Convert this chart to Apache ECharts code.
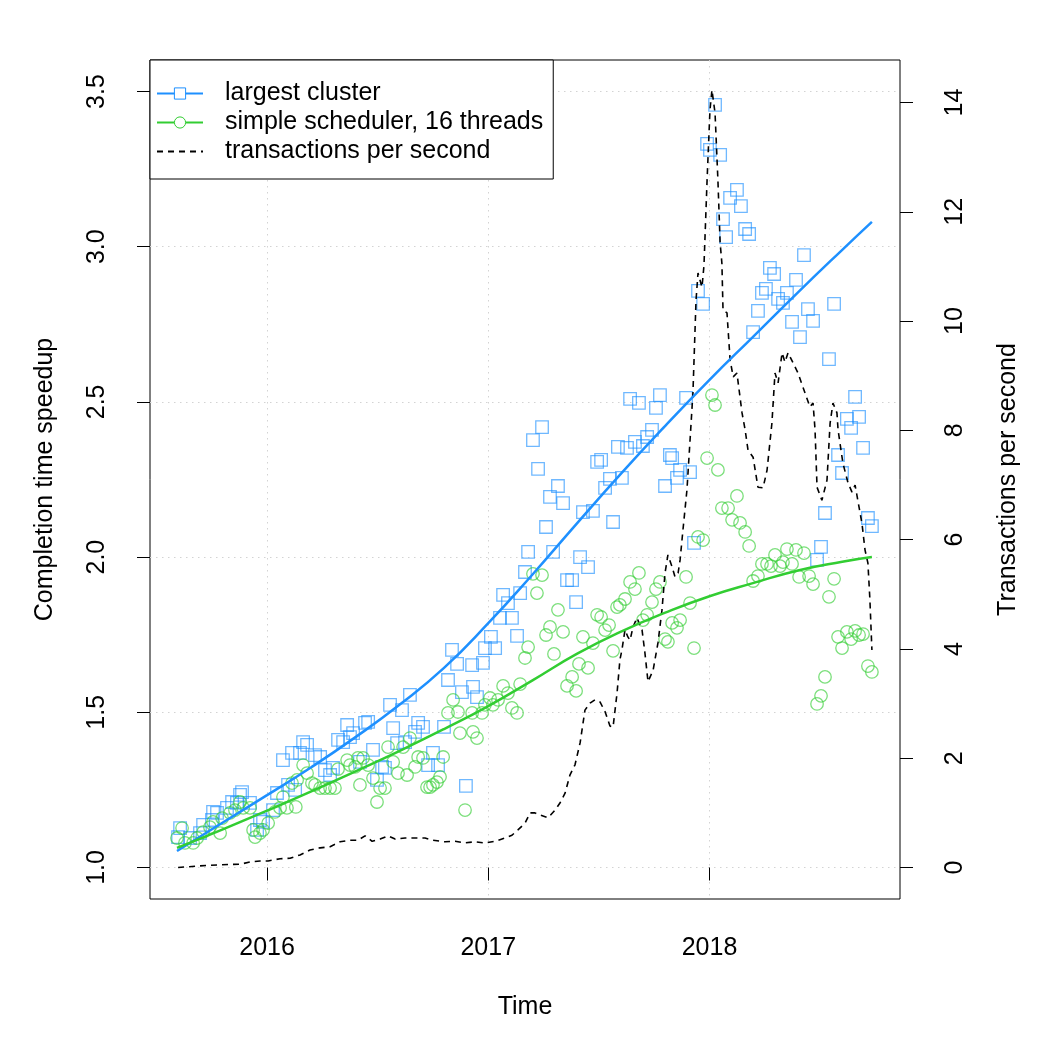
<!DOCTYPE html>
<html>
<head>
<meta charset="utf-8">
<script src="https://cdn.jsdelivr.net/npm/echarts@6/dist/echarts.min.js"></script>
<style>
  html, body { margin: 0; padding: 0; background: #fff; }
  #chart { width: 1050px; height: 1050px; }
</style>
</head>
<body>
<div id="chart"></div>
<script>
// tick labels
const timeTicks = [2016, 2017, 2018];
const speedupTicks = [1.0, 1.5, 2.0, 2.5, 3.0, 3.5];
const tpsTicks = [0, 2, 4, 6, 8, 10, 12, 14];

// [decimal year, speedup]
const clusterPoints = [
  [2015.598,1.098],[2015.607,1.127],[2015.652,1.095],[2015.697,1.111],[2015.711,1.137],[2015.751,1.153],
  [2015.756,1.179],[2015.774,1.176],[2015.819,1.192],[2015.842,1.211],[2015.864,1.208],[2015.878,1.234],
  [2015.887,1.243],[2015.923,1.208],[2015.955,1.121],[2015.968,1.153],[2015.982,1.147],[2016.027,1.185],
  [2016.045,1.240],[2016.072,1.346],[2016.095,1.266],[2016.113,1.369],[2016.127,1.250],[2016.149,1.369],
  [2016.163,1.404],[2016.181,1.395],[2016.217,1.362],[2016.240,1.356],[2016.262,1.314],[2016.285,1.298],
  [2016.298,1.321],[2016.321,1.411],[2016.344,1.404],[2016.362,1.459],[2016.375,1.420],[2016.389,1.433],
  [2016.420,1.340],[2016.443,1.466],[2016.457,1.469],[2016.479,1.379],[2016.497,1.282],[2016.520,1.324],
  [2016.533,1.321],[2016.556,1.524],[2016.570,1.449],[2016.588,1.401],[2016.610,1.507],[2016.624,1.404],
  [2016.646,1.556],[2016.669,1.437],[2016.683,1.466],[2016.705,1.453],[2016.728,1.330],[2016.750,1.369],
  [2016.773,1.330],[2016.800,1.453],[2016.818,1.604],[2016.836,1.701],[2016.859,1.656],[2016.881,1.565],
  [2016.899,1.263],[2016.927,1.652],[2016.931,1.582],[2016.949,1.549],[2016.976,1.659],[2016.985,1.707],
  [2017.012,1.743],[2017.031,1.707],[2017.053,1.804],[2017.067,1.878],[2017.089,1.852],[2017.107,1.804],
  [2017.130,1.746],[2017.144,1.884],[2017.166,1.952],[2017.180,2.017],[2017.202,2.377],[2017.225,2.284],
  [2017.243,2.419],[2017.261,2.097],[2017.279,2.194],[2017.293,2.017],[2017.315,2.229],[2017.338,2.174],
  [2017.356,1.926],[2017.379,1.926],[2017.397,1.855],[2017.415,2.000],[2017.428,2.145],[2017.451,1.968],
  [2017.473,2.149],[2017.492,2.307],[2017.510,2.313],[2017.528,2.223],[2017.550,2.252],[2017.564,2.113],
  [2017.586,2.355],[2017.604,2.255],[2017.627,2.352],[2017.641,2.510],[2017.663,2.371],[2017.681,2.497],
  [2017.699,2.358],[2017.718,2.387],[2017.740,2.410],[2017.758,2.481],[2017.776,2.522],[2017.799,2.229],
  [2017.821,2.329],[2017.831,2.319],[2017.853,2.255],[2017.867,2.281],[2017.894,2.513],[2017.912,2.274],
  [2017.930,2.046],[2017.948,2.858],[2017.971,2.816],[2017.989,3.331],[2018.002,3.312],[2018.025,3.457],
  [2018.048,3.296],[2018.061,3.089],[2018.075,3.031],[2018.093,3.157],[2018.124,3.183],[2018.142,3.131],
  [2018.161,3.057],[2018.179,3.041],[2018.197,2.725],[2018.219,2.793],[2018.237,2.851],[2018.255,2.864],
  [2018.273,2.932],[2018.292,2.912],[2018.310,2.832],[2018.332,2.819],[2018.350,2.851],[2018.373,2.758],
  [2018.391,2.893],[2018.409,2.709],[2018.427,2.973],[2018.445,2.799],[2018.468,2.761],[2018.486,1.991],
  [2018.504,2.033],[2018.522,2.142],[2018.540,2.638],[2018.563,2.816],[2018.581,2.329],[2018.599,2.271],
  [2018.621,2.445],[2018.640,2.416],[2018.658,2.516],[2018.676,2.452],[2018.694,2.352],[2018.716,2.126],
  [2018.734,2.100]
];

const schedPoints = [
  [2015.593,1.095],[2015.616,1.127],[2015.629,1.079],[2015.666,1.079],[2015.684,1.095],[2015.711,1.114],
  [2015.742,1.130],[2015.756,1.147],[2015.788,1.111],[2015.797,1.159],[2015.833,1.176],[2015.855,1.185],
  [2015.878,1.211],[2015.892,1.192],[2015.923,1.192],[2015.937,1.121],[2015.946,1.098],[2015.968,1.111],
  [2015.982,1.121],[2016.005,1.143],[2016.036,1.179],[2016.059,1.192],[2016.072,1.227],[2016.090,1.192],
  [2016.113,1.272],[2016.130,1.195],[2016.136,1.282],[2016.163,1.330],[2016.181,1.304],[2016.203,1.272],
  [2016.217,1.266],[2016.240,1.256],[2016.262,1.256],[2016.285,1.256],[2016.307,1.256],[2016.321,1.317],
  [2016.362,1.346],[2016.375,1.330],[2016.398,1.324],[2016.411,1.353],[2016.420,1.266],[2016.434,1.353],
  [2016.457,1.330],[2016.479,1.288],[2016.497,1.211],[2016.511,1.256],[2016.533,1.256],[2016.547,1.388],
  [2016.570,1.340],[2016.592,1.304],[2016.615,1.388],[2016.633,1.298],[2016.646,1.417],[2016.669,1.324],
  [2016.683,1.356],[2016.705,1.353],[2016.723,1.259],[2016.737,1.259],[2016.750,1.266],[2016.768,1.275],
  [2016.782,1.292],[2016.796,1.356],[2016.818,1.498],[2016.841,1.540],[2016.863,1.501],[2016.872,1.433],
  [2016.895,1.185],[2016.927,1.498],[2016.931,1.437],[2016.949,1.417],[2016.972,1.498],[2016.985,1.524],
  [2017.008,1.546],[2017.021,1.524],[2017.044,1.540],[2017.067,1.585],[2017.089,1.562],[2017.107,1.514],
  [2017.130,1.498],[2017.144,1.591],[2017.166,1.675],[2017.180,1.710],[2017.202,1.946],[2017.220,1.884],
  [2017.243,1.942],[2017.261,1.749],[2017.279,1.775],[2017.297,1.688],[2017.315,1.830],[2017.338,1.759],
  [2017.356,1.585],[2017.379,1.614],[2017.397,1.569],[2017.410,1.656],[2017.428,1.743],[2017.451,1.643],
  [2017.473,1.723],[2017.492,1.814],[2017.510,1.807],[2017.528,1.765],[2017.546,1.781],[2017.564,1.698],
  [2017.582,1.839],[2017.595,1.846],[2017.618,1.865],[2017.641,1.920],[2017.663,1.897],[2017.681,1.949],
  [2017.699,1.797],[2017.718,1.814],[2017.740,1.855],[2017.758,1.897],[2017.776,1.920],[2017.799,1.736],
  [2017.812,1.727],[2017.831,1.788],[2017.853,1.772],[2017.867,1.797],[2017.894,1.936],[2017.912,1.852],
  [2017.930,1.707],[2017.948,2.065],[2017.971,2.055],[2017.989,2.319],[2018.011,2.522],[2018.025,2.490],
  [2018.038,2.281],[2018.056,2.158],[2018.084,2.158],[2018.102,2.120],[2018.124,2.197],[2018.138,2.110],
  [2018.161,2.081],[2018.179,2.036],[2018.197,1.923],[2018.219,1.939],[2018.237,1.978],[2018.260,1.978],
  [2018.278,1.971],[2018.296,2.007],[2018.319,1.971],[2018.332,1.984],[2018.350,2.026],[2018.373,1.978],
  [2018.391,2.023],[2018.405,1.936],[2018.427,2.013],[2018.450,1.939],[2018.468,1.913],[2018.486,1.527],
  [2018.504,1.553],[2018.522,1.614],[2018.540,1.872],[2018.563,1.930],[2018.581,1.743],[2018.599,1.707],
  [2018.621,1.759],[2018.640,1.736],[2018.658,1.762],[2018.676,1.749],[2018.694,1.752],[2018.716,1.649],
  [2018.734,1.630]
];

// smoothed fit curves, read every 0.2 year
const clusterFit = [
  [2015.593,1.053],[2015.8,1.145],[2016.0,1.233],[2016.2,1.323],[2016.4,1.420],[2016.6,1.525],
  [2016.8,1.643],[2017.0,1.787],[2017.2,1.944],[2017.4,2.108],[2017.6,2.269],[2017.8,2.423],
  [2018.0,2.571],[2018.2,2.712],[2018.4,2.853],[2018.6,2.990],[2018.734,3.080]
];
const schedFit = [
  [2015.593,1.063],[2015.8,1.123],[2016.0,1.183],[2016.2,1.245],[2016.4,1.310],[2016.6,1.376],
  [2016.8,1.446],[2017.0,1.520],[2017.2,1.603],[2017.4,1.688],[2017.6,1.760],[2017.8,1.821],
  [2018.0,1.874],[2018.2,1.917],[2018.4,1.957],[2018.6,1.985],[2018.734,2.000]
];

// [decimal year, transactions per second]
const tpsPoints = [
  [2015.598,0.00],[2015.697,0.03],[2015.788,0.05],[2015.878,0.06],[2015.923,0.10],[2015.968,0.12],
  [2016.005,0.12],[2016.059,0.16],[2016.104,0.17],[2016.149,0.23],[2016.194,0.32],[2016.240,0.36],
  [2016.285,0.38],[2016.330,0.47],[2016.375,0.50],[2016.411,0.50],[2016.443,0.58],[2016.475,0.48],
  [2016.511,0.52],[2016.547,0.58],[2016.579,0.52],[2016.624,0.54],[2016.669,0.54],[2016.714,0.54],
  [2016.750,0.50],[2016.805,0.47],[2016.850,0.48],[2016.895,0.45],[2016.940,0.47],[2016.985,0.45],
  [2017.031,0.48],[2017.076,0.54],[2017.107,0.59],[2017.134,0.69],[2017.166,0.81],[2017.189,1.00],
  [2017.211,1.00],[2017.234,0.96],[2017.270,0.91],[2017.302,1.05],[2017.324,1.18],[2017.347,1.36],
  [2017.369,1.69],[2017.392,1.88],[2017.415,2.28],[2017.437,2.88],[2017.460,3.01],[2017.482,3.07],
  [2017.505,3.03],[2017.528,2.85],[2017.550,2.59],[2017.564,2.57],[2017.582,3.19],[2017.595,3.80],
  [2017.604,3.98],[2017.618,4.35],[2017.631,4.22],[2017.641,4.16],[2017.654,4.40],[2017.672,4.57],
  [2017.695,4.35],[2017.708,3.93],[2017.722,3.40],[2017.745,3.61],[2017.767,4.11],[2017.785,4.71],
  [2017.799,5.39],[2017.812,5.72],[2017.831,5.50],[2017.844,5.32],[2017.858,5.39],[2017.867,5.63],
  [2017.880,6.18],[2017.898,6.91],[2017.912,7.82],[2017.925,8.68],[2017.939,10.38],[2017.948,10.88],
  [2017.966,10.62],[2017.975,11.02],[2017.989,12.58],[2018.002,13.86],[2018.011,14.23],[2018.025,13.81],
  [2018.038,12.58],[2018.048,11.43],[2018.056,11.06],[2018.061,10.20],[2018.079,10.15],[2018.093,9.29],
  [2018.107,8.98],[2018.124,9.05],[2018.147,8.32],[2018.161,8.01],[2018.174,7.64],[2018.197,7.51],
  [2018.219,6.96],[2018.242,6.95],[2018.260,7.27],[2018.282,8.13],[2018.296,9.05],[2018.310,8.87],
  [2018.328,9.42],[2018.341,9.25],[2018.355,9.42],[2018.377,9.24],[2018.400,9.05],[2018.432,8.68],
  [2018.454,8.43],[2018.468,8.50],[2018.477,8.01],[2018.486,6.96],[2018.508,6.72],[2018.531,7.09],
  [2018.545,8.13],[2018.558,8.50],[2018.576,8.32],[2018.581,8.01],[2018.603,7.40],[2018.626,7.04],
  [2018.644,6.87],[2018.658,7.00],[2018.689,6.30],[2018.703,5.81],[2018.716,5.57],[2018.725,4.90],
  [2018.734,3.98]
];

const font = '"Liberation Sans", Arial, sans-serif';
const blue = '#1E90FF';
const green = '#32CD32';
const gridLine = { show: true, lineStyle: { color: '#d3d3d3', type: [1.5, 4.5], width: 1 } };
const tick = { show: true, inside: false, length: 13, lineStyle: { color: '#000', width: 1 } };
const label = { fontSize: 25, color: '#000', fontFamily: font };

const chart = echarts.init(document.getElementById('chart'));
chart.setOption({
  animation: false,
  backgroundColor: '#fff',
  grid: {
    left: 150, right: 150, top: 60, bottom: 151,
    show: true, borderColor: '#000', borderWidth: 1, backgroundColor: 'transparent'
  },
  legend: {
    orient: 'vertical', left: 150, top: 60,
    backgroundColor: '#fff', borderColor: '#000', borderWidth: 1, borderRadius: 0,
    padding: [21, 10, 15, 6], itemGap: 4, itemWidth: 46, itemHeight: 14,
    selectedMode: false,
    itemStyle: { borderWidth: 1 },
    textStyle: { fontSize: 25, color: '#000', fontFamily: font, lineHeight: 25, padding: [0, 0, 0, 17] },
    data: [
      { name: 'largest cluster' },
      { name: 'simple scheduler, 16 threads' },
      { name: 'transactions per second', itemStyle: { opacity: 0 } }
    ]
  },
  xAxis: {
    type: 'value', min: 2015.471, max: 2018.861,
    name: 'Time', nameLocation: 'middle', nameGap: 96,
    nameTextStyle: label,
    axisLine: { show: false },
    axisTick: Object.assign({ customValues: timeTicks }, tick),
    axisLabel: Object.assign({ customValues: timeTicks, margin: 37, formatter: v => String(v) }, label),
    splitLine: gridLine
  },
  yAxis: [
    {
      type: 'value', position: 'left', min: 0.8985, max: 3.6015,
      name: 'Completion time speedup', nameLocation: 'middle', nameGap: 92, nameRotate: 90,
      nameTextStyle: label,
      axisLine: { show: false },
      axisTick: Object.assign({ customValues: speedupTicks }, tick),
      axisLabel: Object.assign({ customValues: speedupTicks, rotate: 90, margin: 40, formatter: v => v.toFixed(1) }, label),
      splitLine: gridLine
    },
    {
      type: 'value', position: 'right', min: -0.5765, max: 14.779,
      name: 'Transactions per second', nameLocation: 'middle', nameGap: 96, nameRotate: 90,
      nameTextStyle: label,
      axisLine: { show: false },
      axisTick: Object.assign({ customValues: tpsTicks }, tick),
      axisLabel: Object.assign({ customValues: tpsTicks, rotate: 90, margin: 43, formatter: v => String(v) }, label),
      splitLine: { show: false }
    }
  ],
  series: [
    {
      name: 'largest cluster', type: 'line', data: clusterFit, z: 4,
      smooth: true, symbol: 'rect', showSymbol: false, silent: true,
      itemStyle: { color: '#fff', borderColor: blue, borderWidth: 1 },
      lineStyle: { color: blue, width: 2.5 }
    },
    {
      name: 'simple scheduler, 16 threads', type: 'line', data: schedFit, z: 4,
      smooth: true, symbol: 'circle', showSymbol: false, silent: true,
      itemStyle: { color: '#fff', borderColor: green, borderWidth: 1 },
      lineStyle: { color: green, width: 2.5 }
    },
    {
      name: 'transactions per second', type: 'line', yAxisIndex: 1, data: tpsPoints, z: 3,
      symbol: 'none', silent: true,
      itemStyle: { color: '#000' },
      lineStyle: { color: '#000', width: 1.6, type: [6, 5] }
    },
    {
      name: 'largest cluster', type: 'scatter', data: clusterPoints, z: 2,
      symbol: 'rect', symbolSize: 12.5, silent: true,
      itemStyle: { color: 'rgba(0,0,0,0)', borderColor: 'rgba(30,144,255,0.8)', borderWidth: 1.3 }
    },
    {
      name: 'simple scheduler, 16 threads', type: 'scatter', data: schedPoints, z: 2,
      symbol: 'circle', symbolSize: 12.5, silent: true,
      itemStyle: { color: 'rgba(0,0,0,0)', borderColor: 'rgba(50,205,50,0.8)', borderWidth: 1.3 }
    }
  ]
});
</script>
</body>
</html>
